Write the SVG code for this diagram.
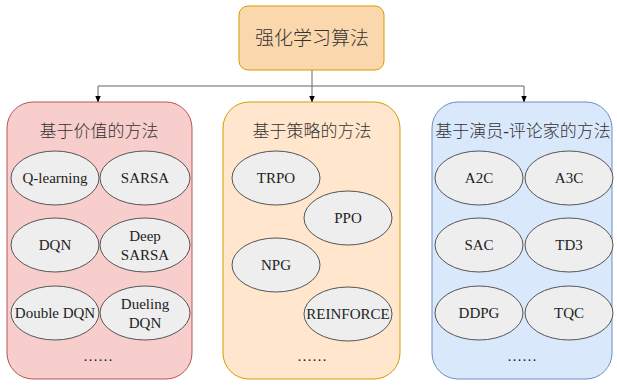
<svg xmlns="http://www.w3.org/2000/svg" width="617" height="386" viewBox="0 0 617 386">
<defs>
<marker id="ah" viewBox="0 0 10 10" refX="9" refY="5" markerWidth="7" markerHeight="7" orient="auto" markerUnits="userSpaceOnUse">
<path d="M0,1 L10,5 L0,9 Z" fill="#000"/>
</marker>
<style>
text{font-family:"Liberation Serif","Noto Sans CJK SC",serif;fill:#222;text-anchor:middle;dominant-baseline:central}
.t{font-size:17px;font-weight:300;fill:#333}
.e{font-size:15px}
ellipse{fill:#eeeeee;stroke:#555;stroke-width:1}
.c{fill:none;stroke:#666;stroke-width:1}
</style>
</defs>
<rect width="617" height="386" fill="#fff"/>
<g id="connectors">
<path class="c" d="M312,70 V86"/>
<path class="c" d="M98,86 H524"/>
<path class="c" d="M98,86 V102" marker-end="url(#ah)"/>
<path class="c" d="M312,86 V102" marker-end="url(#ah)"/>
<path class="c" d="M524,86 V102" marker-end="url(#ah)"/>
</g>
<g id="root">
<rect x="239" y="6" width="145" height="64" rx="9" fill="#fad7ac" stroke="#d79b00"/>
<text x="312" y="38" style="font-size:19px;font-weight:300;fill:#333">强化学习算法</text>
</g>
<g id="value">
<rect x="7" y="102" width="185" height="277" rx="26" fill="#f8cecc" stroke="#b85450"/>
<text class="t" x="99" y="131">基于价值的方法</text>
<g id="qlearning"><ellipse cx="55" cy="178" rx="44" ry="27"/><text class="e" x="55" y="178">Q-learning</text></g>
<g id="sarsa"><ellipse cx="145" cy="178" rx="45" ry="27"/><text class="e" x="145" y="178">SARSA</text></g>
<g id="dqn"><ellipse cx="55" cy="245" rx="44" ry="27"/><text class="e" x="55" y="245">DQN</text></g>
<g id="deepsarsa"><ellipse cx="145" cy="245" rx="45" ry="27"/><text class="e" x="145" y="236">Deep</text><text class="e" x="145" y="255">SARSA</text></g>
<g id="doubledqn"><ellipse cx="55" cy="313" rx="44" ry="27"/><text class="e" x="55" y="313">Double DQN</text></g>
<g id="duelingdqn"><ellipse cx="145" cy="313" rx="45" ry="27"/><text class="e" x="145" y="304">Dueling</text><text class="e" x="145" y="323">DQN</text></g>
<text class="e" x="98" y="356">……</text>
</g>
<g id="policy">
<rect x="223" y="102" width="177" height="277" rx="26" fill="#ffe6cc" stroke="#d79b00"/>
<text class="t" x="312" y="131">基于策略的方法</text>
<g id="trpo"><ellipse cx="276" cy="178" rx="44" ry="27"/><text class="e" x="276" y="178">TRPO</text></g>
<g id="ppo"><ellipse cx="348" cy="218" rx="44" ry="27"/><text class="e" x="348" y="218">PPO</text></g>
<g id="npg"><ellipse cx="276" cy="265" rx="44" ry="27"/><text class="e" x="276" y="265">NPG</text></g>
<g id="reinforce"><ellipse cx="348" cy="314" rx="44" ry="27"/><text class="e" x="348" y="314">REINFORCE</text></g>
<text class="e" x="312" y="356">……</text>
</g>
<g id="actorcritic">
<rect x="432" y="102" width="180" height="277" rx="26" fill="#dae8fc" stroke="#6c8ebf"/>
<text class="t" x="523" y="131">基于演员-评论家的方法</text>
<g id="a2c"><ellipse cx="479" cy="178" rx="44" ry="27"/><text class="e" x="479" y="178">A2C</text></g>
<g id="a3c"><ellipse cx="569" cy="178" rx="44" ry="27"/><text class="e" x="569" y="178">A3C</text></g>
<g id="sac"><ellipse cx="479" cy="245" rx="44" ry="27"/><text class="e" x="479" y="245">SAC</text></g>
<g id="td3"><ellipse cx="569" cy="245" rx="44" ry="27"/><text class="e" x="569" y="245">TD3</text></g>
<g id="ddpg"><ellipse cx="479" cy="313" rx="44" ry="27"/><text class="e" x="479" y="313">DDPG</text></g>
<g id="tqc"><ellipse cx="569" cy="313" rx="44" ry="27"/><text class="e" x="569" y="313">TQC</text></g>
<text class="e" x="522" y="356">……</text>
</g>
</svg>
